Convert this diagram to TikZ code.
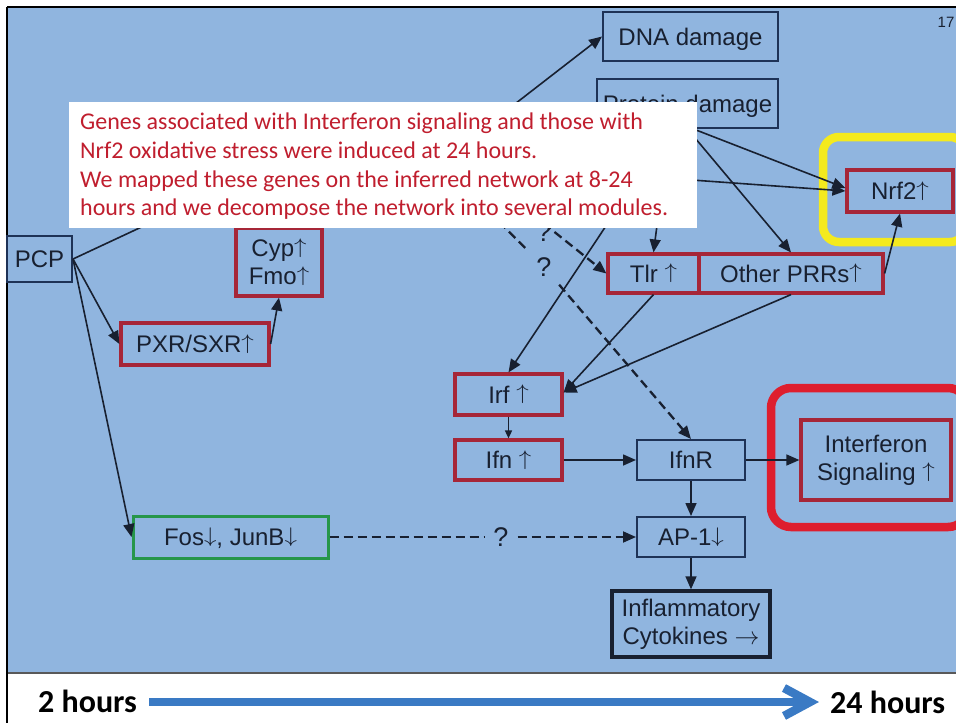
\documentclass[tikz,border=0pt]{standalone}
\usepackage{fontspec}
\setmainfont{Liberation Sans}
\newfontfamily\calfont{Carlito}
\usetikzlibrary{arrows.meta}

% thin, cap-high arrows used in the gene labels
\newcommand\upar{\raisebox{0.13em}{\scalebox{1}[0.85]{$\uparrow$}}}
\newcommand\dnar{\raisebox{0.13em}{\scalebox{1}[0.85]{$\downarrow$}}}
\newcommand\rtar{$\rightarrow$}

\definecolor{slidebg}{RGB}{144,181,223}
\definecolor{navy}{RGB}{30,50,86}
\definecolor{boxred}{RGB}{166,38,56}
\definecolor{ringred}{RGB}{222,30,46}
\definecolor{ringyellow}{RGB}{244,234,30}
\definecolor{boxgreen}{RGB}{38,150,74}
\definecolor{inkdark}{RGB}{24,32,48}
\definecolor{notered}{RGB}{192,30,46}
\definecolor{tlblue}{RGB}{58,122,196}

\tikzset{
  lbl/.style={font=\fontsize{24}{28}\selectfont, text=inkdark, inner sep=0pt, align=center},
  oneline/.style={text height=17pt, text depth=0pt},
  bluebox/.style={lbl, draw=navy, line width=2pt},
  redbox/.style={lbl, draw=boxred, line width=3.2pt},
  greenbox/.style={lbl, draw=boxgreen, line width=3pt},
  blackbox/.style={lbl, draw=inkdark, line width=3.4pt},
  qmark/.style={font=\fontsize{27}{30}\selectfont, text=inkdark, inner sep=6pt, text height=19pt, text depth=0pt},
  wire/.style={draw=inkdark, line width=1.6pt},
  link/.style={wire, -{Triangle[length=13pt,width=11pt]}},
  smalllink/.style={wire, -{Triangle[length=8pt,width=7pt]}},
  dwire/.style={wire, line width=2.3pt, dash pattern=on 9pt off 5pt},
  dlink/.style={dwire, -{Triangle[length=13pt,width=11pt]}},
  fosdash/.style={wire, line width=1.9pt, dash pattern=on 9pt off 5pt},
  ring/.style={line width=8.5pt, rounded corners=20pt},
  notetext/.style={font=\calfont\fontsize{24}{29}\selectfont, text=notered, inner sep=0pt, anchor=base west},
  timetext/.style={font=\calfont\bfseries\fontsize{32}{36}\selectfont, text=black, inner sep=0pt, anchor=base west},
}

\begin{document}
\begin{tikzpicture}[x=1pt, y=-1pt]
\useasboundingbox (0,0) rectangle (956,723);
\clip (0,0) rectangle (956,723);

% page and slide area
\fill[white] (0,0) rectangle (956,723);
\fill[slidebg] (7,7) rectangle (956,673);
\draw[black!65, line width=2pt] (7,673) -- (956,673);
\draw[black, line width=2.6pt] (7,7) -- (956,7);
\draw[black, line width=2.8pt] (7,7) -- (7,723);

% highlight rings
\draw[ringyellow, ring, rounded corners=16pt] (823,137) rectangle (966,242);
\draw[ringred, ring] (771,388) rectangle (968,527);

% network nodes
\node[bluebox, oneline, minimum width=175pt, minimum height=49pt] (dna) at (690.5,36.5) {DNA damage};
\node[bluebox, oneline, minimum width=181pt, minimum height=49pt] (prot) at (687.5,103.5) {Protein damage};
\node[redbox, oneline, minimum width=106pt, minimum height=42pt] (nrf2) at (900,191) {Nrf2\upar};
\node[redbox, oneline, minimum width=91pt, minimum height=39pt] (tlr) at (653.5,273.5) {Tlr \upar};
\node[redbox, oneline, minimum width=184pt, minimum height=39pt] (prr) at (791,273.5) {Other PRRs\upar};
\node[bluebox, oneline, minimum width=65pt, minimum height=46pt] (pcp) at (39.5,259) {PCP};
\node[redbox, minimum width=86pt, minimum height=68pt] (cyp) at (279,262) {Cyp\upar\\Fmo\upar};
\node[redbox, oneline, minimum width=148pt, minimum height=42pt] (pxr) at (195,344) {PXR/SXR\upar};
\node[redbox, oneline, minimum width=107pt, minimum height=41pt] (irf) at (508.5,394.5) {Irf \upar};
\node[redbox, oneline, minimum width=107pt, minimum height=40pt] (ifn) at (508.5,460) {Ifn \upar};
\node[bluebox, oneline, minimum width=108pt, minimum height=40pt] (ifnr) at (691,460) {IfnR};
\node[bluebox, oneline, minimum width=108pt, minimum height=40pt] (ap1) at (691,537) {AP-1\dnar};
\node[blackbox, minimum width=158pt, minimum height=66pt] (infl) at (691,624) {Inflammatory\\Cytokines \rtar};
\node[redbox, minimum width=150pt, minimum height=80pt] (ifs) at (876,460) {Interferon\\Signaling \upar};
\node[greenbox, oneline, minimum width=195pt, minimum height=42pt] (fos) at (230.5,537) {Fos\dnar, JunB\dnar};

% question marks on uncertain links
\node[qmark, inner sep=0pt] (q0) at (544,231.5) {?};
\node[qmark, inner sep=8pt] (q1) at (544,267) {?};
\node[qmark, inner sep=9pt] (q2) at (501,537) {?};

% sources lying under the note
\coordinate (pcpup) at (300,153);
\coordinate (hubA) at (440,162);
\coordinate (hubB) at (467,162);

% connectors
\draw[wire] (pcp.east) -- (pcpup);
\draw[link] (pcp.east) -- (pxr.west);
\draw[link] (pcp.east) -- (fos.west);
\draw[link] (pxr.east) -- (cyp.south);
\draw[link] (hubA) -- (dna.west);
\draw[link] (hubA) -- (prot.west);
\draw[link] (hubA) -- (nrf2.west);
\draw[link] ([xshift=6pt]prot.south) -- ([yshift=3pt]nrf2.west);
\draw[link] (prot.south) -- (prr.north);
\draw[link] ([xshift=-18pt]prot.south) -- (tlr.north);
\draw[link] ([xshift=-17pt]prot.south) -- (irf.north);
\draw[link] (prr.east) -- (nrf2.south);
\draw[link] (tlr.south) -- ([yshift=2pt]irf.east);
\draw[link] (prr.south) -- ([yshift=2pt]irf.east);
\draw[smalllink] (irf.south) -- (ifn.north);
\draw[link] (ifn.east) -- (ifnr.west);
\draw[link] (ifnr.east) -- (ifs.west);
\draw[link] (ifnr.south) -- (ap1.north);
\draw[link] (ap1.south) -- (infl.north);
\draw[dwire] (hubA) -- (q1);
\draw[dlink] (q1) -- (ifnr.north);
\draw[dlink] (hubB) -- (tlr.west);
\draw[fosdash] (fos.east) -- (q2);
\draw[fosdash, -{Triangle[length=13pt,width=11pt]}] (q2) -- (ap1.west);

% note panel
\node[fill=white, minimum width=628pt, minimum height=126pt, inner sep=0pt] (notebg) at (383,165) {};
\node[notetext] (note1) at (80,129) {Genes associated with Interferon signaling and those with};
\node[notetext] (note2) at (80,158) {Nrf2 oxidative stress were induced at 24 hours.};
\node[notetext] (note3) at (80,187) {We mapped these genes on the inferred network at 8-24};
\node[notetext] (note4) at (80,215.5) {hours and we decompose the network into several modules.};

% page number
\node[font=\fontsize{15}{17}\selectfont, text=inkdark, inner sep=0pt] (pageno) at (946,22) {17};

% time axis
\node[timetext] (t2) at (38,712) {2 hours};
\node[timetext] (t24) at (830,713) {24 hours};
\draw[tlblue, line width=8pt] ([xshift=12pt,yshift=10pt]t2.base east) -- ([xshift=-20pt,yshift=11pt]t24.base west);
\draw[tlblue, line width=8.5pt, line join=miter, miter limit=10]
  ([xshift=-46pt,yshift=25pt]t24.base west) -- ([xshift=-20pt,yshift=11pt]t24.base west) -- ([xshift=-46pt,yshift=-3pt]t24.base west);
\end{tikzpicture}
\end{document}
